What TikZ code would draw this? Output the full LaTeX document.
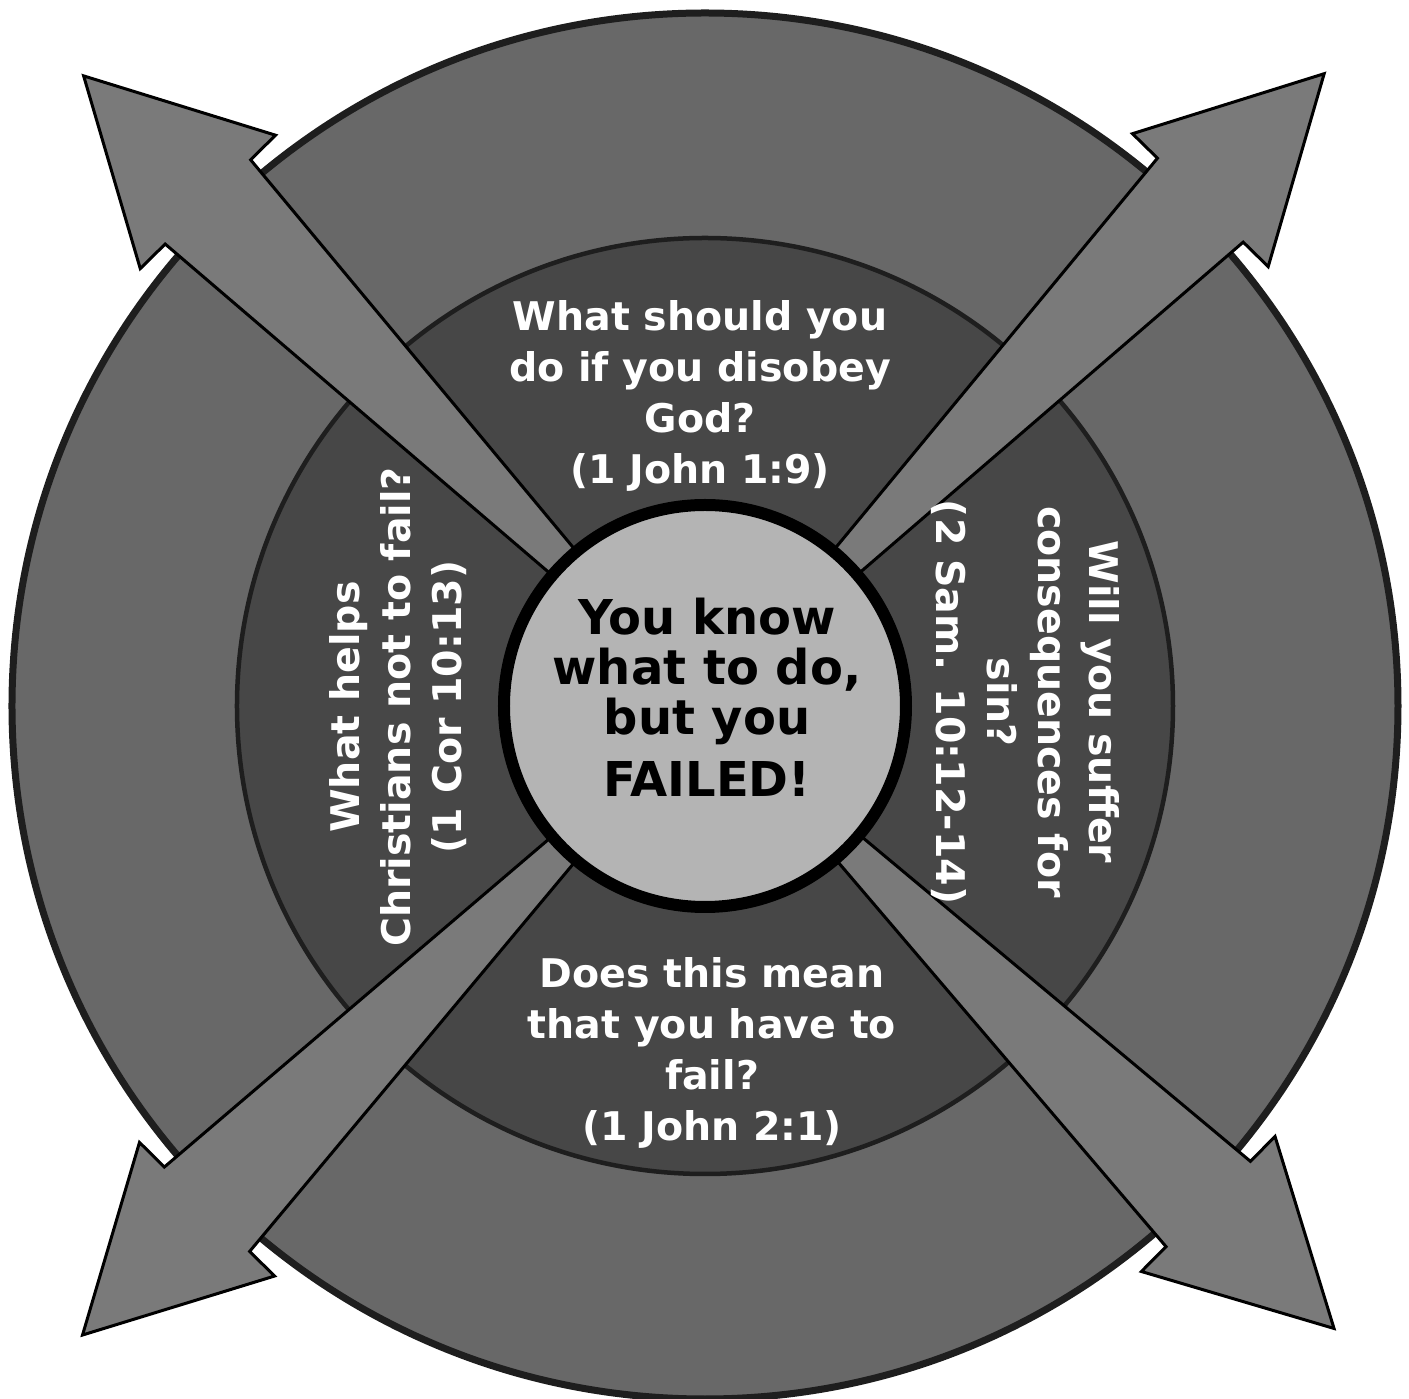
\documentclass[tikz,border=0pt]{standalone}
\usepackage{fontspec}
\setmainfont{DejaVu Sans}
\usetikzlibrary{positioning}
\definecolor{ringgray}{HTML}{686868}
\definecolor{innergray}{HTML}{474747}
\definecolor{arrowgray}{HTML}{7A7A7A}
\definecolor{hubgray}{HTML}{B4B4B4}
\definecolor{rimdark}{HTML}{1E1E1E}
\tikzset{
  outerring/.style={fill=ringgray, draw=rimdark, line width=7pt},
  innerring/.style={fill=innergray, draw=rimdark, line width=4.5pt},
  bigarrow/.style={fill=arrowgray, draw=black, line width=3pt, line join=miter},
  hubdisc/.style={circle, fill=hubgray, draw=black, line width=12pt, minimum size=402pt, inner sep=0pt},
  hubtext/.style={align=center, text=black, inner sep=0pt, font=\bfseries\fontsize{48}{50}\selectfont},
  question/.style={align=center, text=white, inner sep=0pt, font=\bfseries\fontsize{39.5}{51}\selectfont}
}

\begin{document}
\begin{tikzpicture}[x=1pt, y=1pt]
    \useasboundingbox (-705,-693) rectangle (704,706);

    % rings
    \draw[outerring] (0,0) circle (693pt);
    \draw[innerring] (0,0) circle (468pt);

    % four tapered arrows
    \foreach \ang in {45.6,134.6,225.3,315.3}
      \draw[bigarrow, rotate=\ang] (150,12.75) -- (708,60) -- (708,95) -- (885,0)
        -- (708,-95) -- (708,-60) -- (150,-12.75) -- cycle;

    \node[hubdisc] (hub) at (0,0) {};
    \node[hubtext] (hubtxt) at (2,9) {You know\\what to do,\\but you\\[12pt]FAILED!};

    \node[question] (qtop) at (-5,310) {What should you\\do if you disobey\\God?\\(1 John 1:9)};
    \node[question] (qbottom) at (7,-347) {Does this mean\\that you have to\\fail?\\(1 John 2:1)};
    \node[question, rotate=90] (qleft) at (-307,-1) {What helps\\Christians not to fail?\\(1 Cor 10:13)};
    \node[question, rotate=-90] (qright) at (320,4) {Will you suffer\\consequences for\\sin?\\(2 Sam. 10:12-14)};
\end{tikzpicture}
\end{document}
